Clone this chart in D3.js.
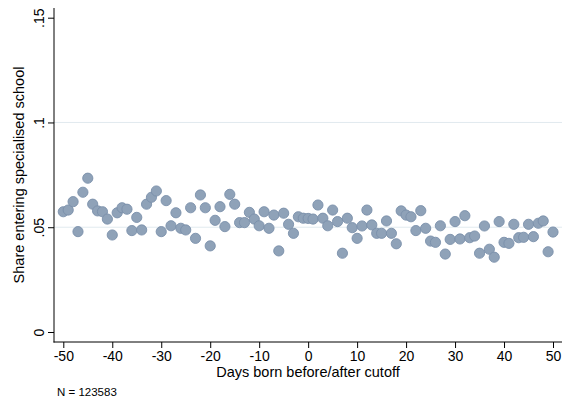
<!DOCTYPE html>
<html>
<head>
<meta charset="utf-8">
<script src="https://cdn.jsdelivr.net/npm/d3@7"></script>
<style>
  body { margin: 0; background: #fff; }
  svg text { font-family: "Liberation Sans", Arial, Helvetica, sans-serif; fill: #000; }
</style>
</head>
<body>
<svg id="chart" width="567" height="402"></svg>
<script>
// days relative to cutoff, -50 .. 50
const days = [
  -50, -49, -48, -47, -46, -45, -44, -43, -42, -41,
  -40, -39, -38, -37, -36, -35, -34, -33, -32, -31,
  -30, -29, -28, -27, -26, -25, -24, -23, -22, -21,
  -20, -19, -18, -17, -16, -15, -14, -13, -12, -11,
  -10, -9, -8, -7, -6, -5, -4, -3, -2, -1,
  0, 1, 2, 3, 4, 5, 6, 7, 8, 9,
  10, 11, 12, 13, 14, 15, 16, 17, 18, 19,
  20, 21, 22, 23, 24, 25, 26, 27, 28, 29,
  30, 31, 32, 33, 34, 35, 36, 37, 38, 39,
  40, 41, 42, 43, 44, 45, 46, 47, 48, 49,
  50
];

// share entering specialised school
const share = [
  0.0574, 0.0582, 0.0622, 0.0479, 0.0667, 0.0734, 0.0610, 0.0578, 0.0574, 0.0539,
  0.0463, 0.0569, 0.0593, 0.0586, 0.0484, 0.0547, 0.0487, 0.0610, 0.0643, 0.0673,
  0.0479, 0.0627, 0.0507, 0.0569, 0.0495, 0.0487, 0.0593, 0.0447, 0.0654, 0.0593,
  0.0411, 0.0533, 0.0598, 0.0503, 0.0657, 0.0610, 0.0522, 0.0522, 0.0571, 0.0539,
  0.0507, 0.0574, 0.0495, 0.0558, 0.0387, 0.0567, 0.0514, 0.0471, 0.0550, 0.0543,
  0.0542, 0.0539, 0.0606, 0.0543, 0.0507, 0.0582, 0.0527, 0.0376, 0.0543, 0.0498,
  0.0447, 0.0506, 0.0582, 0.0511, 0.0471, 0.0471, 0.0530, 0.0471, 0.0421, 0.0578,
  0.0558, 0.0550, 0.0484, 0.0579, 0.0495, 0.0434, 0.0428, 0.0507, 0.0372, 0.0442,
  0.0527, 0.0444, 0.0555, 0.0450, 0.0458, 0.0376, 0.0506, 0.0395, 0.0357, 0.0527,
  0.0428, 0.0423, 0.0514, 0.0450, 0.0452, 0.0514, 0.0455, 0.0519, 0.0530, 0.0383,
  0.0477
];

const xTicks = [-50, -40, -30, -20, -10, 0, 10, 20, 30, 40, 50];
const yTicks = [0, 0.05, 0.1, 0.15];
const yGrid = [0.05, 0.1];

const svg = d3.select("#chart");

// plot region (axis lines run along its edges)
const region = { left: 54, right: 562, top: 8, bottom: 342 };

const x = d3.scaleLinear().domain([-50, 50]).range([63.3, 553]);
const y = d3.scaleLinear().domain([0, 0.15]).range([332, 17.7]);

const points = days.map((d, i) => ({ day: d, value: share[i] }));

// grid lines
svg.append("g")
    .selectAll("line")
    .data(yGrid)
    .enter()
    .append("line")
    .attr("x1", region.left)
    .attr("x2", region.right)
    .attr("y1", d => y(d))
    .attr("y2", d => y(d))
    .attr("stroke", "#e1eaef")
    .attr("stroke-width", 1);

// markers
svg.append("g")
    .selectAll("circle")
    .data(points)
    .enter()
    .append("circle")
    .attr("cx", d => x(d.day))
    .attr("cy", d => y(d.value))
    .attr("r", 5.1)
    .attr("fill", "#8fa2b8")
    .attr("stroke", "#7b90aa")
    .attr("stroke-width", 0.9);

// x axis
const xAxis = svg.append("g")
    .attr("transform", `translate(0,${region.bottom})`)
    .call(d3.axisBottom(x).tickValues(xTicks).tickFormat(d => String(d)).tickSize(6).tickPadding(3));
xAxis.select(".domain").remove();
xAxis.selectAll("line").attr("stroke", "#000");
xAxis.selectAll("text")
    .style("font-size", "14px")
    .attr("font-family", null);

svg.append("line")
    .attr("x1", region.left - 0.5).attr("x2", region.right)
    .attr("y1", region.bottom).attr("y2", region.bottom)
    .attr("stroke", "#000").attr("stroke-width", 1);

// y axis, labels turned like Stata
const yAxis = svg.append("g")
    .attr("transform", `translate(${region.left},0)`)
    .call(d3.axisLeft(y).tickValues(yTicks)
        .tickFormat(d => d === 0 ? "0" : String(+d.toFixed(2)).replace(/^0/, ""))
        .tickSize(6));
yAxis.select(".domain").remove();
yAxis.selectAll("line").attr("stroke", "#000");
yAxis.selectAll("text")
    .attr("transform", "rotate(-90)")
    .attr("x", 0)
    .attr("y", -10)
    .attr("dy", null)
    .attr("text-anchor", "middle")
    .attr("font-family", null)
    .style("font-size", "14px");

svg.append("line")
    .attr("x1", region.left).attr("x2", region.left)
    .attr("y1", region.top).attr("y2", region.bottom + 0.5)
    .attr("stroke", "#000").attr("stroke-width", 1);

// titles
svg.append("text")
    .attr("x", (region.left + region.right) / 2)
    .attr("y", 377)
    .attr("text-anchor", "middle")
    .style("font-size", "14.5px")
    .text("Days born before/after cutoff");

svg.append("text")
    .attr("transform", `translate(24,${(region.top + region.bottom) / 2}) rotate(-90)`)
    .attr("text-anchor", "middle")
    .style("font-size", "14.5px")
    .text("Share entering specialised school");

svg.append("text")
    .attr("x", 57)
    .attr("y", 396)
    .style("font-size", "11.5px")
    .text("N = 123583");
</script>
</body>
</html>
